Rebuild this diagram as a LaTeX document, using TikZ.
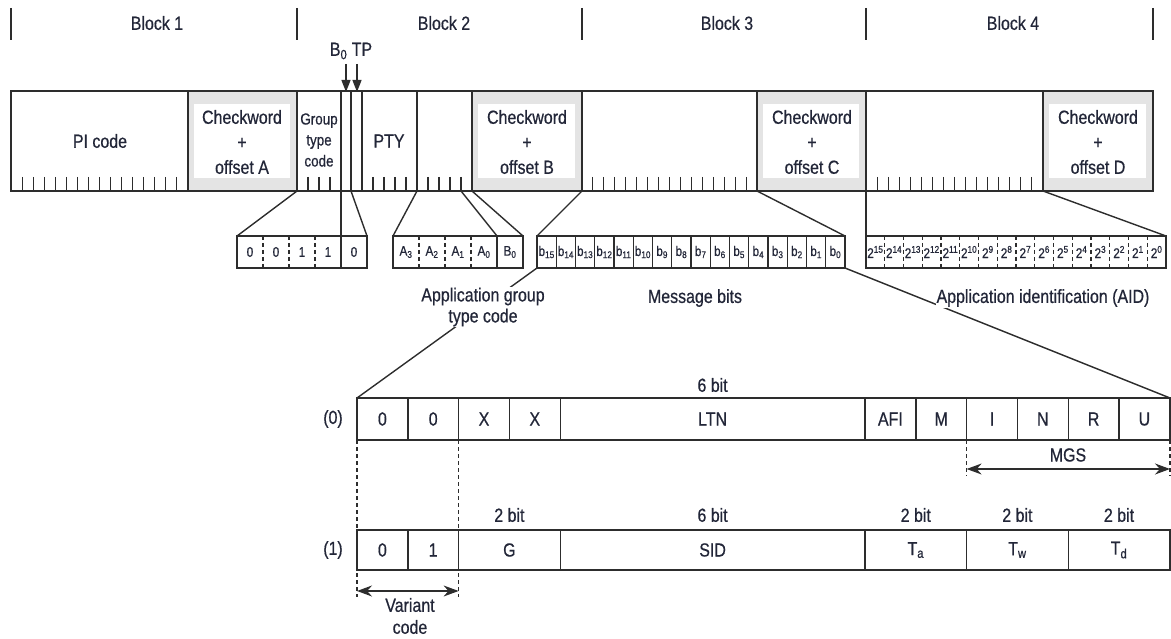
\documentclass[tikz,border=0pt]{standalone}
\usepackage{fontspec}
\setmainfont{Liberation Sans}[FakeStretch=0.84, FakeBold=0.6]
\usepackage{xcolor}
\usetikzlibrary{arrows.meta, positioning, calc}
\definecolor{RDSText}{RGB}{34, 38, 56}
\definecolor{RDSLine}{RGB}{45, 45, 45}
\definecolor{RDSGrey}{RGB}{228, 228, 228}

\tikzset{
  cellframe/.style={draw=RDSLine, line width=1.4pt},
  bittick/.style={draw=RDSLine, line width=1.1pt},
  fanline/.style={draw=RDSLine, line width=1.4pt},
  guide/.style={draw=RDSLine, line width=1.1pt, dash pattern=on 4pt off 3pt},
  spanarrow/.style={draw=RDSLine, line width=1.3pt,
    {Stealth[length=15pt,width=11pt]}-{Stealth[length=15pt,width=11pt]}},
  lbl/.style={text=RDSText, inner sep=1pt, align=center,
    font=\fontsize{19}{25}\selectfont},
  smalllbl/.style={text=RDSText, inner sep=1pt, align=center,
    font=\fontsize{16}{21}\selectfont},
  bitlbl/.style={text=RDSText, inner sep=0pt, font=\fontsize{14}{16}\selectfont},
}

\begin{document}
\begin{tikzpicture}[x=1pt,y=-1pt]
  \path[use as bounding box] (0,0) rectangle (1171,639);

  % block ruler
  \foreach \bx in {11,297,582,866,1153}
    \draw[RDSLine, line width=1.1pt] (\bx,8) -- (\bx,40);
  \node[lbl] (blk1) at (157,23) {Block 1};
  \node[lbl] (blk2) at (444,23) {Block 2};
  \node[lbl] (blk3) at (727,23) {Block 3};
  \node[lbl] (blk4) at (1013,23) {Block 4};

  % checkword cells
  \foreach \l/\r in {188/297, 472/582, 757/866, 1043/1153}{
    \fill[RDSGrey] (\l,91) rectangle (\r,191);
    \fill[white] (\l+6,104) rectangle (\r-7,178);
  }

  % group frame
  \draw[cellframe] (11,91) rectangle (1153,191);
  \foreach \cx in {188,297,341,351,362,417,472,582,757,866,1043}
    \draw[cellframe] (\cx,91) -- (\cx,191);

  % bit ticks
  \foreach \k in {1,...,15}{
    \draw[bittick] (11+\k*11.06,177) -- ++(0,14);
    \draw[bittick] (582+\k*10.94,177) -- ++(0,14);
    \draw[bittick] (866+\k*11.06,177) -- ++(0,14);
  }
  \foreach \k in {1,...,3}
    \draw[bittick] (297+\k*11,177) -- ++(0,14);
  \foreach \k in {1,...,4}{
    \draw[bittick] (362+\k*11,177) -- ++(0,14);
    \draw[bittick] (417+\k*11,177) -- ++(0,14);
  }

  \node[lbl] (pi) at (100,141) {PI code};
  \node[lbl] (ckA) at (242,142) {Checkword\\+\\offset A};
  \node[smalllbl] (gtc) at (319,140) {Group\\type\\code};
  \node[lbl] (pty) at (389,141) {PTY};
  \node[lbl] (ckB) at (527,142) {Checkword\\+\\offset B};
  \node[lbl] (ckC) at (812,142) {Checkword\\+\\offset C};
  \node[lbl] (ckD) at (1098,142) {Checkword\\+\\offset D};

  % B0 and TP flags
  \node[lbl] (flags) at (351,51) {B\textsubscript{0} TP};
  \coordinate (b0top) at (346,92);
  \coordinate (tptop) at (357,92);
  \draw[RDSLine, line width=1.3pt, -{Triangle[length=12pt,width=9pt]}]
    ($(b0top)+(0,-28)$) -- (b0top);
  \draw[RDSLine, line width=1.3pt, -{Triangle[length=12pt,width=9pt]}]
    ($(tptop)+(0,-28)$) -- (tptop);

  % group type code + B0
  \draw[cellframe] (237,236) rectangle (367,268);
  \foreach \x in {263,289,315} \draw[guide] (\x,236) -- (\x,268);
  \draw[cellframe] (341,236) -- (341,268);
  \foreach \v [count=\i] in {0,0,1,1,0}
    \node[bitlbl] (gt\i) at (224+\i*26,252) {\v};

  % application group type code
  \draw[cellframe] (393,236) rectangle (523,268);
  \foreach \x in {419,445,471} \draw[guide] (\x,236) -- (\x,268);
  \draw[cellframe] (497,236) -- (497,268);
  \foreach \v [count=\i] in {A\textsubscript{3},A\textsubscript{2},A\textsubscript{1},A\textsubscript{0},B\textsubscript{0}}
    \node[bitlbl] (ag\i) at (380+\i*26,252) {\v};

  % message bits
  \draw[cellframe] (537,236) rectangle (845,268);
  \foreach \k in {1,...,15} \draw[cellframe] (537+\k*19.25,236) -- ++(0,32);
  \foreach \k in {0,...,15}
    \node[bitlbl] (mb\k) at (835.4-\k*19.25,252) {b\textsubscript{\k}};

  % application identification
  \draw[cellframe] (866,236) rectangle (1166,268);
  \foreach \k in {1,...,15} \draw[guide] (866+\k*18.75,236) -- ++(0,32);
  \foreach \k in {0,...,15}
    \node[bitlbl] (aid\k) at (1156.6-\k*18.75,252) {2\textsuperscript{\k}};

  % expansion lines
  \coordinate (gtL) at (297,191);  \coordinate (gtM) at (341,191);
  \coordinate (gtR) at (351,191);  \coordinate (agL) at (417,191);
  \coordinate (agM) at (461,191);  \coordinate (agR) at (472,191);
  \coordinate (mbL) at (582,191);  \coordinate (mbR) at (757,191);
  \coordinate (aidL) at (866,191); \coordinate (aidR) at (1043,191);
  \draw[fanline] (gtL) -- (237,236);
  \draw[fanline] (gtM) -- (341,236);
  \draw[fanline] (gtR) -- (367,236);
  \draw[fanline] (agL) -- (393,236);
  \draw[fanline] (agM) -- (497,236);
  \draw[fanline] (agR) -- (523,236);
  \draw[fanline] (mbL) -- (537,236);
  \draw[fanline] (mbR) -- (845,236);
  \draw[fanline] (aidL) -- (866,236);
  \draw[fanline] (aidR) -- (1166,236);

  \coordinate (rowTL) at (357,398);
  \coordinate (rowTR) at (1170,398);
  \draw[fanline] (537,268) -- (rowTL);
  \draw[fanline] (845,268) -- (rowTR);

  \node[lbl, fill=white, font=\fontsize{19}{21}\selectfont] (agtc) at (483,307)
    {Application group\\type code};
  \node[lbl] (msg) at (695,298) {Message bits};
  \node[lbl, fill=white] (aid) at (1043,298) {Application identification (AID)};

  % variant (0)
  \def\bw{50.8}
  \draw[cellframe] (357,398) rectangle (1170,440);
  \foreach \b in {1,2,3,4,10,11,12,13,14,15}
    \draw[cellframe] (357+\b*\bw,398) -- (357+\b*\bw,440);
  \foreach \t/\c [count=\i] in {0/0.5,0/1.5,X/2.5,X/3.5,LTN/7,AFI/10.5,M/11.5,I/12.5,N/13.5,R/14.5,U/15.5}
    \node[lbl] (va\i) at (357+\c*\bw,419) {\t};
  \node[lbl] (vaTag) at (333,419) {(0)};
  \node[lbl] (vaLtn) at (357+7*\bw,385) {6 bit};

  % variant (1)
  \draw[cellframe] (357,530) rectangle (1170,570);
  \foreach \b in {1,2,4,10,12,14}
    \draw[cellframe] (357+\b*\bw,530) -- (357+\b*\bw,570);
  \foreach \t/\c [count=\i] in {0/0.5,1/1.5,G/3,SID/7,T\textsubscript{a}/11,T\textsubscript{w}/13,T\textsubscript{d}/15}
    \node[lbl] (vb\i) at (357+\c*\bw,550) {\t};
  \node[lbl] (vbTag) at (333,550) {(1)};
  \foreach \t/\c [count=\i] in {2 bit/3,6 bit/7,2 bit/11,2 bit/13,2 bit/15}
    \node[lbl] (vbw\i) at (357+\c*\bw,515) {\t};

  % variant code and MGS spans
  \draw[guide] (357,440) -- (357,597);
  \draw[guide] (357+2*\bw,440) -- (357+2*\bw,597);
  \draw[spanarrow] (357,591) -- (357+2*\bw,591);
  \node[lbl, font=\fontsize{19}{22}\selectfont] (vcode) at (410,616) {Variant\\code};

  \draw[guide] (357+12*\bw,440) -- (357+12*\bw,476);
  \draw[guide] (1170,440) -- (1170,476);
  \draw[spanarrow] (357+12*\bw,469) -- (1170,469);
  \node[lbl] (mgs) at (1068,455) {MGS};
\end{tikzpicture}
\end{document}
